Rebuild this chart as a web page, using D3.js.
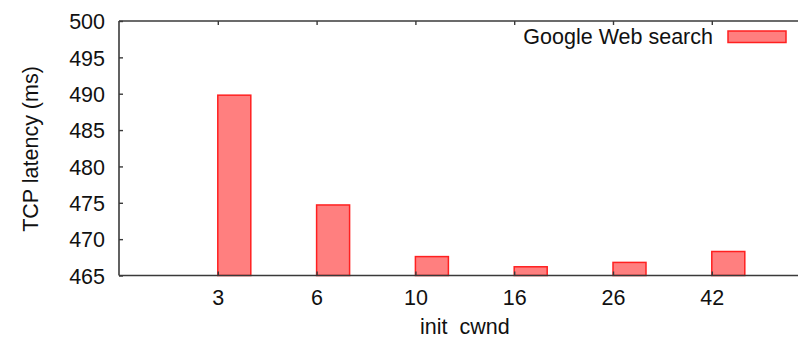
<!DOCTYPE html>
<html>
<head>
<meta charset="utf-8">
<script src="https://cdn.jsdelivr.net/npm/d3@7"></script>
<style>
  html, body { margin: 0; padding: 0; background: #fff; }
  text { font-family: "Liberation Sans", Arial, sans-serif; fill: #111; }
</style>
</head>
<body>
<svg id="chart" width="798" height="340"></svg>
<script>
// TCP latency for Google Web search by initial congestion window
const categories = ["3", "6", "10", "16", "26", "42"];
const latency = [489.8, 474.7, 467.6, 466.2, 466.8, 468.3];
const yTicks = [465, 470, 475, 480, 485, 490, 495, 500];
const seriesName = "Google Web search";

const svg = d3.select("#chart");
const plotLeft = 119, plotTop = 21, plotBottom = 275.5;
const step = 98.8;
const plotRight = plotLeft + step * (categories.length + 1);

// category index -1 .. 6 spans the frame; bars start at their tick and extend right
const x = d3.scaleLinear().domain([-1, categories.length]).range([plotLeft, plotRight]);
const y = d3.scaleLinear().domain([465, 500]).range([plotBottom, plotTop]);
const barW = 33;

const axisColor = "#3a3a3a";
const fontSize = 21.5;
const fontFamily = "Liberation Sans, Arial, sans-serif";

// bars
svg.append("g").selectAll("rect")
  .data(latency)
  .join("rect")
  .attr("x", (d, i) => x(i))
  .attr("y", d => y(d))
  .attr("width", barW)
  .attr("height", d => y(465) - y(d))
  .attr("fill", "#ff7f7f")
  .attr("stroke", "#ff2020")
  .attr("stroke-width", 1.5);

// frame (left, top, bottom)
const frame = svg.append("g").attr("stroke", axisColor).attr("stroke-width", 1.6).attr("fill", "none");
frame.append("line").attr("x1", plotLeft).attr("x2", plotLeft).attr("y1", plotTop).attr("y2", plotBottom);
frame.append("line").attr("x1", plotLeft).attr("x2", plotRight).attr("y1", plotTop).attr("y2", plotTop);
frame.append("line").attr("x1", plotLeft).attr("x2", plotRight).attr("y1", plotBottom).attr("y2", plotBottom);

// y axis: inward ticks with labels
const yAxis = d3.axisLeft(y).tickValues(yTicks).tickSize(-4).tickPadding(14).tickFormat(d3.format("d"));
const gy = svg.append("g").attr("transform", `translate(${plotLeft},0)`).call(yAxis);
gy.select(".domain").remove();
gy.selectAll(".tick line").attr("stroke", axisColor).attr("stroke-width", 1.4);
gy.selectAll(".tick text").attr("font-size", fontSize).attr("dy", "0.36em").attr("font-family", fontFamily).attr("fill", "#111");

// x axis: inward ticks at category positions
const xAxis = d3.axisBottom(x).tickValues(d3.range(categories.length)).tickSize(-4).tickPadding(14)
  .tickFormat(i => categories[i]);
const gx = svg.append("g").attr("transform", `translate(0,${plotBottom})`).call(xAxis);
gx.select(".domain").remove();
gx.selectAll(".tick line").attr("stroke", axisColor).attr("stroke-width", 1.4);
gx.selectAll(".tick text").attr("font-size", fontSize).attr("dy", "0.71em").attr("font-family", fontFamily).attr("fill", "#111");

// mirrored ticks on the top edge
const xTop = d3.axisTop(x).tickValues(d3.range(categories.length)).tickSize(-4).tickFormat("");
const gt = svg.append("g").attr("transform", `translate(0,${plotTop})`).call(xTop);
gt.select(".domain").remove();
gt.selectAll(".tick line").attr("stroke", axisColor).attr("stroke-width", 1.4);

// axis titles
svg.append("text")
  .attr("x", x(2.5)).attr("y", 334)
  .attr("text-anchor", "middle")
  .attr("font-size", fontSize)
  .style("white-space", "pre")
  .text("init  cwnd");

svg.append("text")
  .attr("transform", `translate(38,149) rotate(-90)`)
  .attr("text-anchor", "middle")
  .attr("font-size", fontSize)
  .text("TCP latency (ms)");

// legend
svg.append("text")
  .attr("x", 713).attr("y", 44)
  .attr("text-anchor", "end")
  .attr("font-size", fontSize)
  .text(seriesName);
svg.append("rect")
  .attr("x", 728).attr("y", 31)
  .attr("width", 58).attr("height", 11.5)
  .attr("fill", "#ff7f7f")
  .attr("stroke", "#ff2020")
  .attr("stroke-width", 1.5);
</script>
</body>
</html>
